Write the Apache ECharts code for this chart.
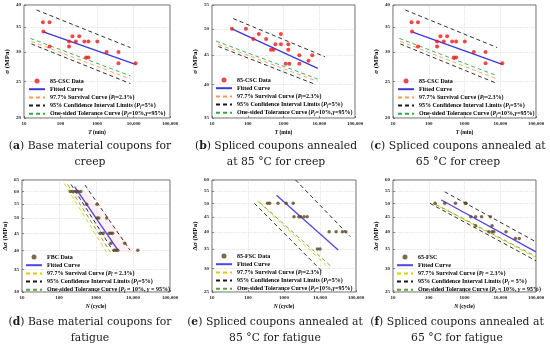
<!DOCTYPE html>
<html><head><meta charset="utf-8">
<script src="https://cdn.jsdelivr.net/npm/echarts@6/dist/echarts.min.js"></script>
<style>html,body{margin:0;padding:0;background:#fff}#c{width:550px;height:353px}</style>
</head><body><div id="c"></div>
<script>
// ---------- tick labels ----------
const xTicks = [10, 100, 1000, 10000, 100000];
const yTicksA = [20, 25, 30, 35, 40];
const yTicksB = [35, 40, 45, 50, 55];
const yTicksD = [30, 35, 40, 45, 50, 55, 60, 65];
const yTicksE = [25, 30, 35, 40, 45, 50, 55, 60];

// ---------- (a) / (c) base material creep ----------
const aDataT = [33, 50, 34, 50, 171, 171, 212, 327, 263, 451, 583, 1020, 502, 583, 1828, 3880, 3880, 11380];
const aDataS = [36, 36, 34, 31, 32, 31, 33, 33, 32, 32, 32, 32, 29, 29, 30, 30, 28, 28];
const aFitT = [34, 11380], aFitS = [33.9, 27.8];
const aSurvT = [16, 8240], aSurvS = [32.0, 25.4];
const aUpT = [22, 8240], aUpS = [38.8, 30.8];
const aLowT = [16, 8240], aLowS = [31.5, 24.7];
const aTolT = [15, 8240], aTolS = [32.6, 25.9];

// ---------- (b) spliced 85 creep ----------
const bDataT = [36, 89, 143, 204, 327, 446, 527, 593, 847, 847, 1362, 1362, 1153, 1462, 2775, 2775, 5020, 6366];
const bDataS = [50, 50, 48, 49, 48, 46, 46, 47, 47, 49, 47, 46, 43.5, 43.5, 43.5, 45, 44, 45];
const bFitT = [36, 9100], bFitS = [50, 42.7];
const bSurvT = [15, 9100], bSurvS = [47.0, 40.5];
const bUpT = [39, 14600], bUpS = [52.1, 44.7];
const bLowT = [15, 8100], bLowS = [46.6, 40.0];
const bTolT = [13, 9100], bTolS = [47.6, 40.9];

// ---------- (d) base material fatigue ----------
const dDataN = [203, 236, 281, 327, 387, 560, 1066, 1066, 1190, 1950, 1320, 1570, 2265, 2530, 2800, 2530, 5960, 3120, 3480, 3880, 13500];
const dDataS = [60, 60, 60, 60, 60, 55, 55, 50, 50, 50, 45, 45, 45, 45, 45, 42, 42, 40, 40, 40, 40];
const dFitN = [263, 3880], dFitS = [62.1, 40.1];
const dSurvN = [138, 1950], dSurvS = [63.5, 39.4];
const dUpN = [502, 8240], dUpS = [62.8, 40.1];
const dLowN = [212, 3000], dLowS = [63.0, 39.6];
const dTolN = [171, 2415], dTolS = [63.0, 39.6];
const dBandN = [210, 460, 11000, 3000], dBandS = [61, 61, 39.5, 39.5];

// ---------- (e) spliced 85 fatigue ----------
const eDataN = [350, 400, 680, 1150, 1800, 1900, 2600, 2900, 3600, 4400, 18000, 28000, 42000, 52000, 8500, 10000];
const eDataS = [50, 50, 50, 50, 50, 45, 45, 45, 45, 45, 40, 40, 40, 40, 35, 35];
const eFitN = [620, 32000], eFitS = [53.3, 34.7];
const eSurvN = [180, 18500], eSurvS = [51.0, 30.0];
const eUpN = [2100, 70000], eUpS = [60, 38.5];
const eLowN = [150, 12000], eLowS = [50.0, 29.2];
const eTolN = [210, 20500], eTolS = [50.4, 30.5];

// ---------- (f) spliced 65 fatigue ----------
const fDataN = [150, 280, 560, 1060, 1100, 1500, 2050, 3000, 5300, 2050, 5900, 4800, 5900, 6600, 14500, 26500, 34000];
const fDataS = [50, 50, 50, 50, 50, 45, 45, 45, 45, 42, 42, 40, 40, 40, 40, 38, 38];
const fFitN = [225, 100000], fFitS = [51.3, 34.2];
const fSurvN = [132, 100000], fSurvS = [50.0, 32.7];
const fUpN = [280, 100000], fUpS = [54.7, 37.0];
const fLowN = [108, 100000], fLowS = [50.0, 31.9];
const fTolN = [156, 100000], fTolS = [49.6, 33.0];

// ---------- captions ----------
const captions = [
  ['a', 'Base material coupons for', 'creep'],
  ['b', 'Spliced coupons annealed', 'at 85 °C for creep'],
  ['c', 'Spliced coupons annealed at', '65 °C for creep'],
  ['d', 'Base material coupons for', 'fatigue'],
  ['e', 'Spliced coupons annealed at', '85 °C for fatigue'],
  ['f', 'Spliced coupons annealed at', '65 °C for fatigue']
];

const SERIF = '"Liberation Serif", "Times New Roman", serif';
const CAPFONT = '"DejaVu Serif", serif';
const pair = (xs, ys) => xs.map((x, i) => [x, ys[i]]);

const grids = [
  {left: 24, top: 5, width: 146, height: 113},
  {left: 212, top: 5, width: 143, height: 113},
  {left: 393, top: 5, width: 143, height: 113},
  {left: 22, top: 180, width: 148, height: 112},
  {left: 212, top: 180, width: 144, height: 112},
  {left: 393, top: 180, width: 143, height: 112}
].map(g => Object.assign({show: true, borderColor: '#444', borderWidth: 0.8, containLabel: false}, g));

const fmtX = v => { const r = Math.round(v); return r >= 10000 ? String(r).replace(/\B(?=(\d{3})+(?!\d))/g, ',') : String(r); };
const nameRich = {
  it: {fontFamily: SERIF, fontStyle: 'italic', fontWeight: 'bold', fontSize: 5.5, color: '#000'}
};
function xAxis(gi, nm) {
  return {
    type: 'log', logBase: 10, gridIndex: gi, min: 10, max: 100000,
    name: nm, nameLocation: 'middle', nameGap: 12,
    nameTextStyle: {fontFamily: SERIF, fontWeight: 'bold', fontSize: 5.5, color: '#000', rich: nameRich},
    axisLine: {show: false},
    axisTick: {show: true, inside: true, length: 2, lineStyle: {color: '#444', width: 0.6}},
    axisLabel: {fontFamily: SERIF, fontWeight: 'bold', fontSize: 5, color: '#222', margin: 3, formatter: fmtX},
    splitLine: {show: true, lineStyle: {type: 'dotted', color: '#cfcfcf', width: 0.6}}
  };
}
function yAxis(gi, ticks, nm) {
  return {
    type: 'log', logBase: 10, gridIndex: gi, min: ticks[0], max: ticks[ticks.length - 1],
    name: nm, nameLocation: 'middle', nameGap: 13,
    nameTextStyle: {fontFamily: SERIF, fontWeight: 'bold', fontSize: 7, color: '#000',
      rich: {it: {fontFamily: SERIF, fontStyle: 'italic', fontWeight: 'bold', fontSize: 7, color: '#000'}}},
    axisLine: {show: false},
    axisTick: {show: true, inside: true, length: 2, customValues: ticks, lineStyle: {color: '#444', width: 0.6}},
    axisLabel: {fontFamily: SERIF, fontWeight: 'bold', fontSize: 5, color: '#222', margin: 3,
      customValues: ticks, formatter: v => String(Math.round(v))},
    splitLine: {show: true, lineStyle: {type: 'dotted', color: '#cfcfcf', width: 0.6}}
  };
}

const xAxes = [0, 1, 2].map(i => xAxis(i, '{it|T} (min)')).concat([3, 4, 5].map(i => xAxis(i, '{it|N} (cycle)')));
const yAxes = [
  yAxis(0, yTicksA, '{it|σ} (MPa)'),
  yAxis(1, yTicksB, '{it|σ} (MPa)'),
  yAxis(2, yTicksA, '{it|σ} (MPa)'),
  yAxis(3, yTicksD, 'Δ{it|σ} (MPa)'),
  yAxis(4, yTicksE, 'Δ{it|σ} (MPa)'),
  yAxis(5, yTicksE, 'Δ{it|σ} (MPa)')
];

const series = [];
// faint pink band behind (d) data
series.push({
  type: 'custom', name: 'dBand', xAxisIndex: 3, yAxisIndex: 3, silent: true, z: 1,
  data: pair(dBandN, dBandS),
  renderItem: (params, api) => {
    if (params.dataIndex !== 0) return null;
    const pts = pair(dBandN, dBandS).map(p => api.coord(p));
    return {type: 'polygon', shape: {points: pts}, style: {fill: 'rgba(248,205,215,0.28)'}};
  }
});
function sc(gi, id, xs, ys, color, size) {
  series.push({type: 'scatter', name: id, xAxisIndex: gi, yAxisIndex: gi, data: pair(xs, ys),
    symbol: 'circle', symbolSize: size, itemStyle: {color: color}, silent: true, z: 5});
}
function ln(gi, id, xs, ys, color, type, width) {
  series.push({type: 'line', name: id, xAxisIndex: gi, yAxisIndex: gi, data: pair(xs, ys),
    symbol: 'none', showSymbol: false, silent: true, itemStyle: {color: color},
    lineStyle: {color: color, type: type, width: width}, z: 4});
}
const RED = '#f01818', BLUE = '#3a3ad8', ORANGE = '#ff9a50', BLACK = '#1a1a1a', GREEN = '#2fa84a';
const BROWN = '#5c4520', VIOLET = '#5242ea', YELLOW = '#d8cc10', OLIVE = '#5e9e36';
const DASH = [4, 3];

const creepSets = [
  [0, 'a', aDataT, aDataS, aFitT, aFitS, aSurvT, aSurvS, aUpT, aUpS, aLowT, aLowS, aTolT, aTolS],
  [1, 'b', bDataT, bDataS, bFitT, bFitS, bSurvT, bSurvS, bUpT, bUpS, bLowT, bLowS, bTolT, bTolS],
  [2, 'c', aDataT, aDataS, aFitT, aFitS, aSurvT, aSurvS, aUpT, aUpS, aLowT, aLowS, aTolT, aTolS]
];
creepSets.forEach(s => {
  const g = s[0], k = s[1];
  ln(g, k + '1', s[4], s[5], BLUE, 'solid', 1.3);
  ln(g, k + '2', s[6], s[7], ORANGE, DASH, 0.9);
  ln(g, k + '3', s[8], s[9], BLACK, DASH, 0.9);
  ln(g, k + '3b', s[10], s[11], BLACK, DASH, 0.9);
  ln(g, k + '4', s[12], s[13], GREEN, DASH, 0.9);
  sc(g, k + '0', s[2], s[3], RED, 4);
});
const fatSets = [
  [3, 'd', dDataN, dDataS, dFitN, dFitS, dSurvN, dSurvS, dUpN, dUpS, dLowN, dLowS, dTolN, dTolS],
  [4, 'e', eDataN, eDataS, eFitN, eFitS, eSurvN, eSurvS, eUpN, eUpS, eLowN, eLowS, eTolN, eTolS],
  [5, 'f', fDataN, fDataS, fFitN, fFitS, fSurvN, fSurvS, fUpN, fUpS, fLowN, fLowS, fTolN, fTolS]
];
fatSets.forEach(s => {
  const g = s[0], k = s[1];
  ln(g, k + '1', s[4], s[5], VIOLET, 'solid', 1.3);
  ln(g, k + '2', s[6], s[7], YELLOW, DASH, 0.9);
  ln(g, k + '3', s[8], s[9], BLACK, DASH, 0.9);
  ln(g, k + '3b', s[10], s[11], BLACK, DASH, 0.9);
  ln(g, k + '4', s[12], s[13], OLIVE, DASH, 0.9);
  sc(g, k + '0', s[2], s[3], BROWN, 3.5);
});

// legend labels
const legendText = {
  a: ['85-CSC Data', 'Fitted Curve', '97.7% Survival Curve ({it|P}{sb|f}=2.3%)', '95% Confidence Interval Limits ({it|P}{sb|f}=5%)', 'One-sided Tolerance Curve ({it|P}{sb|f}=10%,{it|γ}=95%)'],
  b: ['85-CSC Data', 'Fitted Curve', '97.7% Survival Curve ({it|P}{sb|f}=2.3%)', '95% Confidence Interval Limits ({it|P}{sb|f}=5%)', 'One-sided Tolerance Curve ({it|P}{sb|f}=10%,{it|γ}=95%)'],
  c: ['85-CSC Data', 'Fitted Curve', '97.7% Survival Curve ({it|P}{sb|f}=2.3%)', '95% Confidence Interval Limits ({it|P}{sb|f}=5%)', 'One-sided Tolerance Curve ({it|P}{sb|f}=10%,{it|γ}=95%)'],
  d: ['FBC Data', 'Fitted Curve', '97.7% Survival Curve ({it|P}{sb|f} = 2.3%)', '95% Confidence Interval Limits ({it|P}{sb|f}=5%)', 'One-sided Tolerance Curve ({it|P}{sb|f} = 10%, {it|γ} = 95%)'],
  e: ['85-FSC Data', 'Fitted Curve', '97.7% Survival Curve ({it|P}{sb|f}=2.3%)', '95% Confidence Interval Limits ({it|P}{sb|f}=5%)', 'One-sided Tolerance Curve ({it|P}{sb|f}=10%,{it|γ}=95%)'],
  f: ['65-FSC', 'Fitted Curve', '97.7% Survival Curve ({it|P}{sb|f} = 2.3%)', '95% Confidence Interval Limits ({it|P}{sb|f} = 5%)', 'One-sided Tolerance Curve ({it|P}{sb|f} = 10%, {it|γ} = 95%)']
};
const legendPos = {a: [28, 78], b: [215, 77], c: [397, 78], d: [25, 254], e: [215, 253], f: [396, 254]};
const suffix = ['0', '1', '2', '3', '4'];
const hideSym = {color: 'rgba(0,0,0,0)', borderWidth: 0, opacity: 0};
const legends = Object.keys(legendText).map(k => ({
  left: legendPos[k][0], top: legendPos[k][1], orient: 'vertical', padding: 0,
  itemWidth: 16, itemHeight: 5, itemGap: 2.2, selectedMode: false,
  data: suffix.map((s, i) => i === 0 ? {name: k + s} : {name: k + s, itemStyle: hideSym}),
  formatter: n => legendText[k][suffix.indexOf(n.slice(1))],
  textStyle: {fontFamily: SERIF, fontWeight: 'bold', fontSize: 6, color: '#000', lineHeight: 6,
    rich: {
      it: {fontFamily: SERIF, fontStyle: 'italic', fontWeight: 'bold', fontSize: 6, lineHeight: 6, color: '#000'},
      sb: {fontFamily: SERIF, fontStyle: 'italic', fontWeight: 'bold', fontSize: 4, lineHeight: 6, color: '#000', verticalAlign: 'bottom', padding: [2, 0, 0, 0]}
    }}
}));

// captions as graphic text
const capX = [90, 276, 458, 90, 275, 457];
const capY = [138, 138, 138, 314, 314, 314];
const graphics = captions.map((c, i) => ({
  type: 'text', x: capX[i], y: capY[i], silent: true,
  style: {
    text: '(' + '{b|' + c[0] + '}) ' + c[1] + '\n' + c[2],
    textAlign: 'center', textVerticalAlign: 'top',
    fontFamily: CAPFONT, fontSize: 10.8, lineHeight: 16, fill: '#1a1a1a',
    rich: {b: {fontFamily: CAPFONT, fontSize: 10.8, fontWeight: 'bold', lineHeight: 16, fill: '#1a1a1a'}}
  }
}));

const chart = echarts.init(document.getElementById('c'), null, {renderer: 'canvas'});
chart.setOption({
  animation: false,
  backgroundColor: '#fff',
  grid: grids,
  xAxis: xAxes,
  yAxis: yAxes,
  legend: legends,
  series: series,
  graphic: graphics
});
</script></body></html>
